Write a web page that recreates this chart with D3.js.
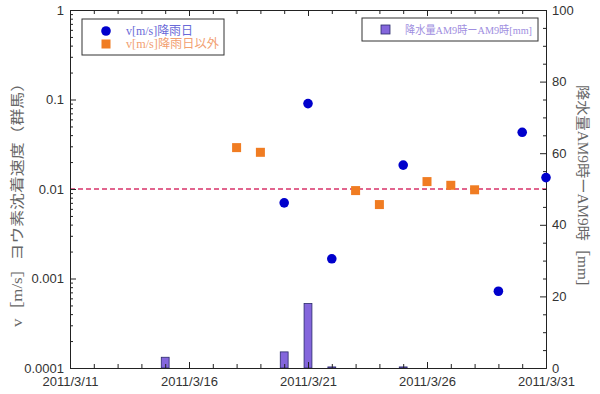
<!DOCTYPE html>
<html>
<head>
<meta charset="utf-8">
<script src="https://cdn.jsdelivr.net/npm/d3@7"></script>
<style>
  body { margin: 0; background: #fff; }
  .axis text { font-family: "Liberation Sans", Arial, sans-serif; font-size: 13px; fill: #333; }
  .axis path, .axis line { stroke: #222; }
  .jp { font-family: "Liberation Serif", "Noto Sans CJK JP", serif; }
</style>
</head>
<body>
<div id="chart"></div>
<script>
// data
const rainDates = ["2011-03-20", "2011-03-21", "2011-03-22", "2011-03-25", "2011-03-29", "2011-03-30", "2011-03-31"];
const rainV = [0.0070, 0.090, 0.00166, 0.0185, 0.00072, 0.043, 0.0134];
const dryDates = ["2011-03-18", "2011-03-19", "2011-03-23", "2011-03-24", "2011-03-26", "2011-03-27", "2011-03-28"];
const dryV = [0.029, 0.0257, 0.0096, 0.0067, 0.0121, 0.0110, 0.0098];
const precipDates = ["2011-03-15", "2011-03-20", "2011-03-21", "2011-03-22", "2011-03-25"];
const precipMm = [3, 4.5, 18, 0.3, 0.3];
const refLine = 0.01;
const yTickValues = [0.0001, 0.001, 0.01, 0.1, 1];
const yTickLabels = ["0.0001", "0.001", "0.01", "0.1", "1"];
const y2TickValues = [0, 20, 40, 60, 80, 100];

const width = 600, height = 394;
const margin = { top: 10, right: 54, bottom: 26, left: 70 };
const w = width - margin.left - margin.right;
const h = height - margin.top - margin.bottom;

const parse = d3.timeParse("%Y-%m-%d");
const svg = d3.select("#chart").append("svg")
    .attr("width", width)
    .attr("height", height);
const g = svg.append("g")
    .attr("transform", "translate(" + margin.left + "," + margin.top + ")");

const x = d3.scaleTime()
    .domain([parse("2011-03-11"), parse("2011-03-31")])
    .range([0, w]);
const y = d3.scaleLog().domain([0.0001, 1]).range([h, 0]);
const y2 = d3.scaleLinear().domain([0, 100]).range([h, 0]);

const dayW = x(parse("2011-03-12")) - x(parse("2011-03-11"));
const barW = dayW * 0.33;

// precipitation bars (right axis)
const bars = precipDates.map((d, i) => ({ date: parse(d), v: precipMm[i] }));
g.selectAll(".bar")
    .data(bars)
    .enter().append("rect")
    .attr("class", "bar")
    .attr("x", d => x(d.date) - barW / 2)
    .attr("width", barW)
    .attr("y", d => y2(d.v))
    .attr("height", d => Math.max(1, h - y2(d.v)))
    .attr("fill", "#8466dc")
    .attr("stroke", "#2a2a6a")
    .attr("stroke-width", 0.8);

// reference line
g.append("line")
    .attr("x1", 0).attr("x2", w)
    .attr("y1", y(refLine)).attr("y2", y(refLine))
    .attr("stroke", "#d8336a")
    .attr("stroke-width", 1.5)
    .attr("stroke-dasharray", "5,3");

// axes
const days = d3.timeDay.range(parse("2011-03-11"), d3.timeDay.offset(parse("2011-03-31"), 1));
const majorDays = days.filter((d, i) => i % 5 === 0);
const fmt = d3.timeFormat("%Y/%-m/%-d");

g.append("g").attr("class", "axis")
    .attr("transform", "translate(0," + h + ")")
    .call(d3.axisBottom(x).tickValues(days).tickSize(-4).tickFormat("").tickSizeOuter(0));
g.append("g").attr("class", "axis")
    .attr("transform", "translate(0," + h + ")")
    .call(d3.axisBottom(x).tickValues(majorDays).tickSize(-6).tickPadding(9).tickFormat(fmt).tickSizeOuter(0));
g.append("g").attr("class", "axis")
    .call(d3.axisTop(x).tickValues(days).tickSize(-4).tickFormat("").tickSizeOuter(0));
g.append("g").attr("class", "axis")
    .call(d3.axisTop(x).tickValues(majorDays).tickSize(-6).tickFormat("").tickSizeOuter(0));

const minorLog = y.ticks().filter(v => yTickValues.indexOf(v) < 0);
g.append("g").attr("class", "axis")
    .call(d3.axisLeft(y).tickValues(minorLog).tickSize(-3).tickFormat("").tickSizeOuter(0));
g.append("g").attr("class", "axis")
    .call(d3.axisLeft(y).tickValues(yTickValues).tickSize(-6).tickPadding(6)
        .tickFormat((d, i) => yTickLabels[i]).tickSizeOuter(0));

const minorLin = d3.range(0, 101, 5).filter(v => y2TickValues.indexOf(v) < 0);
g.append("g").attr("class", "axis")
    .attr("transform", "translate(" + w + ",0)")
    .call(d3.axisRight(y2).tickValues(minorLin).tickSize(-3).tickFormat("").tickSizeOuter(0));
g.append("g").attr("class", "axis")
    .attr("transform", "translate(" + w + ",0)")
    .call(d3.axisRight(y2).tickValues(y2TickValues).tickSize(-6).tickPadding(6).tickSizeOuter(0));

// points
const rain = rainDates.map((d, i) => ({ date: parse(d), v: rainV[i] }));
const dry = dryDates.map((d, i) => ({ date: parse(d), v: dryV[i] }));
const sq = 9;

g.selectAll(".dry")
    .data(dry)
    .enter().append("rect")
    .attr("class", "dry")
    .attr("x", d => x(d.date) - sq / 2)
    .attr("y", d => y(d.v) - sq / 2)
    .attr("width", sq).attr("height", sq)
    .attr("fill", "#f07c22");

g.selectAll(".rain")
    .data(rain)
    .enter().append("circle")
    .attr("class", "rain")
    .attr("cx", d => x(d.date))
    .attr("cy", d => y(d.v))
    .attr("r", 4.8)
    .attr("fill", "#0000cc");

// left legend
const leg1 = svg.append("g").attr("transform", "translate(82,19)");
leg1.append("rect").attr("width", 142).attr("height", 36)
    .attr("fill", "#fff").attr("stroke", "#333").attr("stroke-width", 1);
leg1.append("circle").attr("cx", 24).attr("cy", 12).attr("r", 4.8).attr("fill", "#0000cc");
leg1.append("rect").attr("x", 24 - sq / 2).attr("y", 25 - sq / 2).attr("width", sq).attr("height", sq)
    .attr("fill", "#f07c22");
leg1.append("text").attr("class", "jp").attr("x", 44).attr("y", 16)
    .attr("font-size", 12).attr("fill", "#6a6ad8")
    .attr("textLength", 67).attr("lengthAdjust", "spacingAndGlyphs")
    .text("v[m/s]降雨日");
leg1.append("text").attr("class", "jp").attr("x", 44).attr("y", 29)
    .attr("font-size", 12).attr("fill", "#f2a070")
    .attr("textLength", 93).attr("lengthAdjust", "spacingAndGlyphs")
    .text("v[m/s]降雨日以外");

// right legend
const leg2 = svg.append("g").attr("transform", "translate(362,18)");
leg2.append("rect").attr("width", 176).attr("height", 23)
    .attr("fill", "#fff").attr("stroke", "#333").attr("stroke-width", 1);
leg2.append("rect").attr("x", 19).attr("y", 7).attr("width", 9).attr("height", 9)
    .attr("fill", "#8466dc").attr("stroke", "#2a2a6a").attr("stroke-width", 0.8);
leg2.append("text").attr("class", "jp").attr("x", 43).attr("y", 16)
    .attr("font-size", 11).attr("fill", "#a08ee0")
    .attr("textLength", 127).attr("lengthAdjust", "spacingAndGlyphs")
    .text("降水量AM9時ーAM9時[mm]");

// axis titles
svg.append("text").attr("class", "jp")
    .attr("transform", "translate(22,201) rotate(-90)")
    .attr("text-anchor", "middle")
    .attr("font-size", 14).attr("fill", "#666")
    .attr("textLength", 252).attr("lengthAdjust", "spacingAndGlyphs")
    .text("v［m/s］ヨウ素沈着速度（群馬）");
svg.append("text").attr("class", "jp")
    .attr("transform", "translate(578,190) rotate(90)")
    .attr("text-anchor", "middle")
    .attr("font-size", 14).attr("fill", "#666")
    .attr("textLength", 210).attr("lengthAdjust", "spacingAndGlyphs")
    .text("降水量AM9時ーAM9時［mm］");
</script>
</body>
</html>
